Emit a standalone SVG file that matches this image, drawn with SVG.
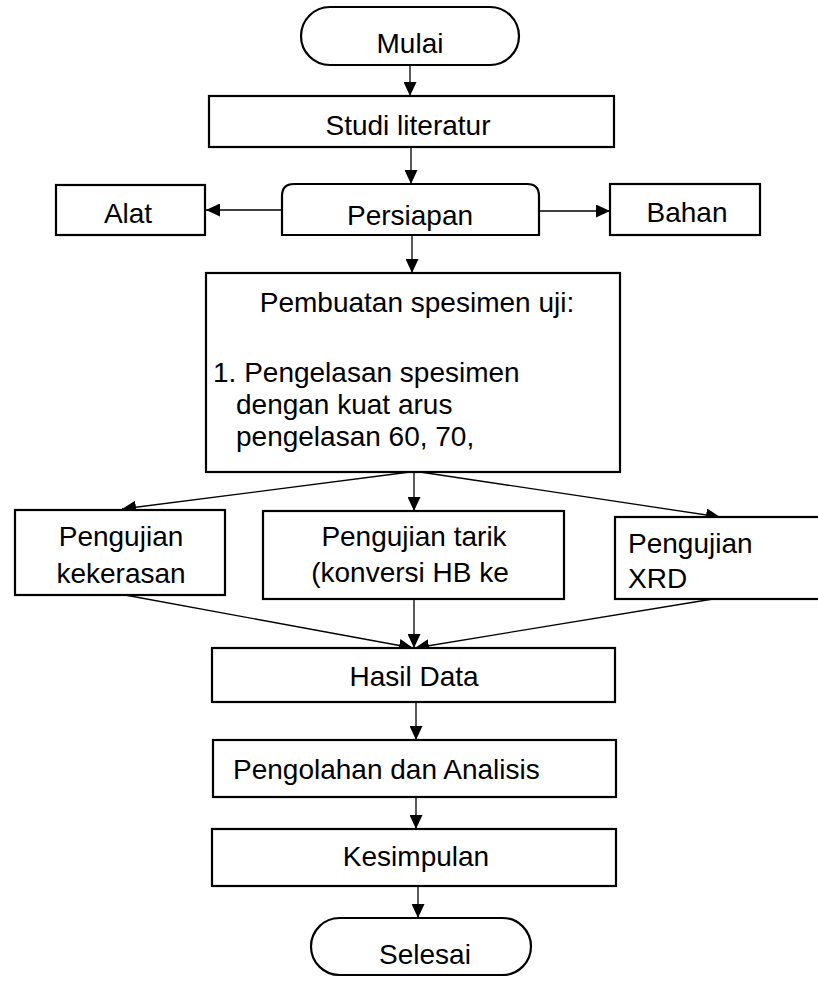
<svg xmlns="http://www.w3.org/2000/svg" width="818" height="985" viewBox="0 0 818 985">
<style>
.b{fill:#fff;stroke:#000;stroke-width:2.2}
.t{font-family:"Liberation Sans",Arial,sans-serif;font-size:28px;fill:#000}
.c{text-anchor:middle}
.l{fill:none;stroke:#000;stroke-width:1.3}
</style>
<defs>
<marker id="a" markerUnits="userSpaceOnUse" markerWidth="15" markerHeight="13" refX="14" refY="6.5" orient="auto">
<path d="M0,0 L14,6.5 L0,13 Z" fill="#000"/>
</marker>
</defs>
<rect width="818" height="985" fill="#fff"/>
<g id="connectors">
<line class="l" x1="410" y1="65" x2="410" y2="96" marker-end="url(#a)"/>
<line class="l" x1="411" y1="147" x2="411" y2="184" marker-end="url(#a)"/>
<line class="l" x1="282" y1="210" x2="206" y2="210" marker-end="url(#a)"/>
<line class="l" x1="539" y1="211" x2="610" y2="211" marker-end="url(#a)"/>
<line class="l" x1="412" y1="235" x2="412" y2="273" marker-end="url(#a)"/>
<line class="l" x1="410" y1="472" x2="122" y2="509" marker-end="url(#a)"/>
<line class="l" x1="414" y1="472" x2="414" y2="511" marker-end="url(#a)"/>
<line class="l" x1="420" y1="472" x2="720" y2="517" marker-end="url(#a)"/>
<line class="l" x1="125" y1="595" x2="413" y2="648" marker-end="url(#a)"/>
<line class="l" x1="414" y1="599" x2="414" y2="648" marker-end="url(#a)"/>
<line class="l" x1="713" y1="599" x2="415" y2="648" marker-end="url(#a)"/>
<line class="l" x1="416" y1="702" x2="416" y2="740" marker-end="url(#a)"/>
<line class="l" x1="416" y1="797" x2="416" y2="829" marker-end="url(#a)"/>
<line class="l" x1="418" y1="886" x2="418" y2="918" marker-end="url(#a)"/>
</g>
<g id="mulai">
<rect class="b" x="301" y="7" width="218" height="58" rx="29" ry="29"/>
<text class="t c" x="410" y="53">Mulai</text>
</g>
<g id="studi">
<rect class="b" x="209" y="96" width="405" height="51"/>
<text class="t c" x="408" y="135">Studi literatur</text>
</g>
<g id="persiapan">
<path class="b" d="M282,235 V196 Q282,184 294,184 H527 Q539,184 539,196 V235 Z"/>
<text class="t c" x="410" y="225">Persiapan</text>
</g>
<g id="alat">
<rect class="b" x="56" y="185" width="149" height="50"/>
<text class="t c" x="128" y="223">Alat</text>
</g>
<g id="bahan">
<rect class="b" x="610" y="184" width="150" height="51"/>
<text class="t c" x="687" y="222">Bahan</text>
</g>
<g id="pembuatan">
<rect class="b" x="206" y="273" width="414" height="199"/>
<text class="t c" x="417" y="312">Pembuatan spesimen uji:</text>
<text class="t" x="213" y="382">1. Pengelasan spesimen</text>
<text class="t" x="236" y="414">dengan kuat arus</text>
<text class="t" x="236" y="446">pengelasan 60, 70,</text>
</g>
<g id="kekerasan">
<rect class="b" x="15" y="510" width="210" height="85"/>
<text class="t c" x="121" y="546">Pengujian</text>
<text class="t c" x="121" y="583">kekerasan</text>
</g>
<g id="tarik">
<rect class="b" x="263" y="511" width="301" height="88"/>
<text class="t c" x="414" y="546">Pengujian tarik</text>
<text class="t c" x="410" y="582">(konversi HB ke</text>
</g>
<g id="xrd">
<rect class="b" x="615" y="517" width="220" height="82"/>
<text class="t" x="628" y="553">Pengujian</text>
<text class="t" x="628" y="588">XRD</text>
</g>
<g id="hasil">
<rect class="b" x="212" y="648" width="403" height="54"/>
<text class="t c" x="414" y="686">Hasil Data</text>
</g>
<g id="pengolahan">
<rect class="b" x="213" y="740" width="403" height="57"/>
<text class="t" x="233" y="779">Pengolahan dan Analisis</text>
</g>
<g id="kesimpulan">
<rect class="b" x="212" y="829" width="404" height="57"/>
<text class="t c" x="416" y="866">Kesimpulan</text>
</g>
<g id="selesai">
<rect class="b" x="311" y="918" width="220" height="57" rx="28.5" ry="28.5"/>
<text class="t c" x="425" y="964">Selesai</text>
</g>
</svg>
